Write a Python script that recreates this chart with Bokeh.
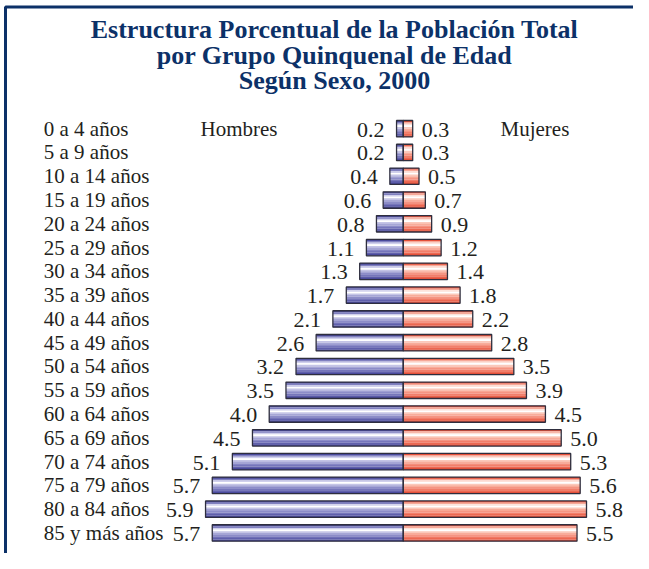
from bokeh.plotting import figure
from bokeh.models import Range1d, Label, ColumnDataSource
from bokeh.core.properties import value
from bokeh.embed import file_html
from bokeh.resources import INLINE

# ---- data ----
ages = ["0 a 4 años", "5 a 9 años", "10 a 14 años", "15 a 19 años", "20 a 24 años",
        "25 a 29 años", "30 a 34 años", "35 a 39 años", "40 a 44 años", "45 a 49 años",
        "50 a 54 años", "55 a 59 años", "60 a 64 años", "65 a 69 años", "70 a 74 años",
        "75 a 79 años", "80 a 84 años", "85 y más años"]
hombres = [0.2, 0.2, 0.4, 0.6, 0.8, 1.1, 1.3, 1.7, 2.1, 2.6, 3.2, 3.5, 4.0, 4.5, 5.1, 5.7, 5.9, 5.7]
mujeres = [0.3, 0.3, 0.5, 0.7, 0.9, 1.2, 1.4, 1.8, 2.2, 2.8, 3.5, 3.9, 4.5, 5.0, 5.3, 5.6, 5.8, 5.5]
title_lines = ["Estructura Porcentual de la Población Total",
               "por Grupo Quinquenal de Edad",
               "Según Sexo, 2000"]
series_names = ["Hombres", "Mujeres"]

rows = list(range(len(ages)))
FONT = "Liberation Serif"
NAVY = "#0c3168"
TXT = "#231f20"

blue = ["#4a4a9a", "#8080c0", "#d0d0ec", "#ffffff", "#c4c4e6", "#a6a6d6",
        "#8c8cc8", "#7676bb", "#6060ac", "#4a4a9c"]
red = ["#e4503a", "#f6a898", "#fde2da", "#ffffff", "#fbc8ba", "#f8ac9a",
       "#f59482", "#f27e6a", "#ec6852", "#e2503a"]

W, H = 633, 553
XM0, XM1 = -12.019, 6.871      # men's scale
XF0, XF1 = -12.743, 7.287      # women's scale
Y0, Y1 = 17.864, -5.391        # rows (flipped)

p = figure(width=W, height=H, output_backend="svg", toolbar_location=None,
           x_range=Range1d(XM0, XM1), y_range=Range1d(Y0, Y1),
           x_axis_location=None, y_axis_location=None, min_border=0)
p.extra_x_ranges = {"f": Range1d(XF0, XF1)}
p.grid.visible = False
p.outline_line_color = None
p.background_fill_color = "white"
p.border_fill_color = "white"

# frame lines (left and top)
pxx = (XM1 - XM0) / W
pxy = (Y0 - Y1) / H
fx = XM0 + 5 * pxx
fy = Y1 + 6.5 * pxy
p.line(x=[fx, fx, XM1 + 1], y=[Y0 + 1, fy, fy], line_color=NAVY, line_width=3)

bh = 0.69
N = len(blue)
for k in range(N):
    off = -bh / 2 + (k + 0.5) * bh / N
    src = ColumnDataSource(dict(y=[r + off for r in rows],
                                h=[-v for v in hombres], m=mujeres))
    p.hbar(y="y", left="h", right=0, height=bh / N * 1.08, source=src,
           fill_color=blue[k], line_color=None)
    p.hbar(y="y", left=0, right="m", height=bh / N * 1.08, source=src,
           fill_color=red[k], line_color=None, x_range_name="f")

src = ColumnDataSource(dict(y=rows, h=[-v for v in hombres], m=mujeres, age=ages,
                            hl=[f"{v:.1f}" for v in hombres],
                            ml=[f"{v:.1f}" for v in mujeres],
                            ax=[XM0 + 43.3 * pxx] * len(ages)))
p.hbar(y="y", left="h", right=0, height=bh, source=src,
       fill_color=None, line_color="#2e2e3e", line_width=1.3)
p.hbar(y="y", left=0, right="m", height=bh, source=src,
       fill_color=None, line_color="#2e2e3e", line_width=1.3, x_range_name="f")

# labels
p.text(x="ax", y="y", text="age", source=src, text_font=value(FONT),
       text_font_size=value("21px"), text_align="left", text_baseline="middle",
       text_color=TXT)
p.text(x="h", y="y", text="hl", source=src, text_font=value(FONT),
       text_font_size=value("22px"), text_align="right", text_baseline="middle",
       x_offset=-12, y_offset=1, text_color=TXT)
p.text(x="m", y="y", text="ml", source=src, text_font=value(FONT),
       text_font_size=value("22px"), text_align="left", text_baseline="middle",
       x_offset=9, y_offset=1, text_color=TXT, x_range_name="f")

p.add_layout(Label(x=XM0 + 200 * pxx, y=0, text=series_names[0], text_font=FONT,
                   text_font_size="21px", text_align="left", text_baseline="middle",
                   text_color=TXT))
p.add_layout(Label(x=XM0 + 500 * pxx, y=0, text=series_names[1], text_font=FONT,
                   text_font_size="21px", text_align="left", text_baseline="middle",
                   text_color=TXT))

for t, ty in zip(title_lines, [29, 54.5, 80]):
    p.add_layout(Label(x=XM0 + 334 * pxx, y=Y1 + ty * pxy, text=t, text_font=FONT,
                       text_font_style="bold", text_font_size="26px",
                       text_align="center", text_baseline="middle", text_color=NAVY))

open("out.html", "w").write(file_html(p, INLINE))
